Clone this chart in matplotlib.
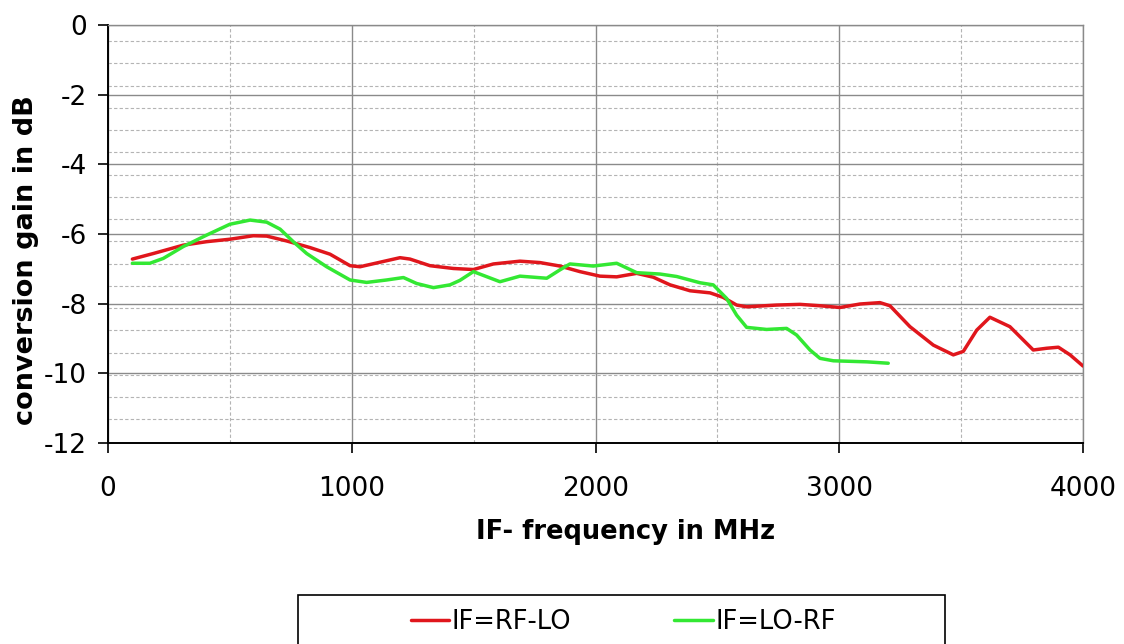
import matplotlib.pyplot as plt
import numpy as np
from matplotlib.patches import Rectangle
from matplotlib.ticker import FixedLocator, MultipleLocator

plt.rcParams['font.family'] = ['DejaVu Sans']
plt.rcParams['axes.unicode_minus'] = False

# IF=RF-LO (red)
rf_lo_freq = [100, 186, 309, 405, 500, 596, 651, 733, 829, 911, 993, 1034, 1116, 1198, 1239,
              1321, 1417, 1499, 1581, 1690, 1772, 1854, 1936, 2018, 2087, 2169, 2237, 2306,
              2388, 2470, 2524, 2579, 2620, 2743, 2839, 2921, 3003, 3085, 3167, 3208, 3290,
              3386, 3468, 3509, 3564, 3618, 3700, 3796, 3851, 3899, 3947, 4000]
rf_lo_gain = [-6.72, -6.56, -6.32, -6.22, -6.15, -6.05, -6.06, -6.20, -6.39, -6.58, -6.91, -6.94,
              -6.81, -6.68, -6.72, -6.91, -6.99, -7.02, -6.86, -6.78, -6.82, -6.92, -7.08, -7.21,
              -7.23, -7.13, -7.24, -7.46, -7.63, -7.69, -7.82, -8.04, -8.09, -8.04, -8.02, -8.06,
              -8.11, -8.01, -7.97, -8.06, -8.66, -9.19, -9.47, -9.37, -8.76, -8.39, -8.66, -9.33,
              -9.28, -9.25, -9.47, -9.79]

# IF=LO-RF (green)
lo_rf_freq = [100, 172, 227, 309, 405, 500, 583, 651, 706, 760, 815, 897, 993, 1061, 1143, 1212,
              1266, 1335, 1403, 1444, 1499, 1608, 1690, 1800, 1854, 1895, 1991, 2087, 2169, 2265,
              2333, 2429, 2483, 2538, 2579, 2620, 2702, 2784, 2825, 2880, 2921, 2976, 3113, 3201]
lo_rf_gain = [-6.84, -6.84, -6.70, -6.36, -6.03, -5.72, -5.60, -5.66, -5.86, -6.22, -6.56, -6.94,
              -7.32, -7.39, -7.32, -7.25, -7.42, -7.54, -7.46, -7.33, -7.08, -7.37, -7.21, -7.27,
              -7.03, -6.86, -6.92, -6.84, -7.11, -7.15, -7.22, -7.40, -7.46, -7.85, -8.33, -8.68,
              -8.74, -8.71, -8.90, -9.33, -9.57, -9.64, -9.67, -9.71]

fig = plt.figure(figsize=(11.24, 6.44), dpi=100)
ax = fig.add_axes([108 / 1124, 1 - 443 / 644, 975 / 1124, 418 / 644])

ax.plot(rf_lo_freq, rf_lo_gain, color='#e0161c', lw=2.5, solid_joinstyle='round',
        solid_capstyle='round', label='IF=RF-LO', zorder=3)
ax.plot(lo_rf_freq, lo_rf_gain, color='#33e833', lw=2.5, solid_joinstyle='round',
        solid_capstyle='round', label='IF=LO-RF', zorder=3)

ax.set_xlim(0, 4000)
ax.set_ylim(-12, 0)
ax.xaxis.set_major_locator(MultipleLocator(1000))
ax.xaxis.set_minor_locator(FixedLocator([500, 1500, 2500, 3500]))
ax.yaxis.set_major_locator(MultipleLocator(2))
ax.yaxis.set_minor_locator(FixedLocator(-0.46 - 0.639 * np.arange(18)))

ax.grid(which='major', color='#8a8a8a', lw=1.0, ls='-')
ax.grid(which='minor', color='#b4b4b4', lw=0.8, ls=(0, (3, 2)))
ax.set_axisbelow(True)

for s in ['top', 'right']:
    ax.spines[s].set_color('#8a8a8a')
    ax.spines[s].set_linewidth(1.0)
for s in ['left', 'bottom']:
    ax.spines[s].set_color('black')
    ax.spines[s].set_linewidth(1.4)

ax.tick_params(which='major', direction='out', length=7, width=1.2, labelsize=19, pad=8)
ax.tick_params(axis='x', which='major', pad=17)
ax.tick_params(which='minor', length=0)

ax.set_xlabel('IF- frequency in MHz', fontsize=18.5, fontweight='bold')
ax.xaxis.set_label_coords((626 - 108) / 975, -(532 - 443) / 418)
ax.xaxis.label.set_va('center')
ax.set_ylabel('conversion gain in dB', fontsize=19.5, fontweight='bold')
ax.yaxis.set_label_coords(-(108 - 26) / 975, (443 - 260) / 418)
ax.yaxis.label.set_va('center')

# legend box runs past the bottom edge like the original
fig.patches.append(Rectangle((298 / 1124, 1 - 660 / 644), 647 / 1124, 65 / 644,
                             transform=fig.transFigure, fill=False, ec='black', lw=1.2))
fig.legend(loc='center', bbox_to_anchor=(623 / 1124, 1 - 622 / 644), ncol=2, frameon=False,
           fontsize=18.5, handlelength=1.5, handletextpad=0.1, columnspacing=4.0)

fig.savefig('out.png', dpi=100)
